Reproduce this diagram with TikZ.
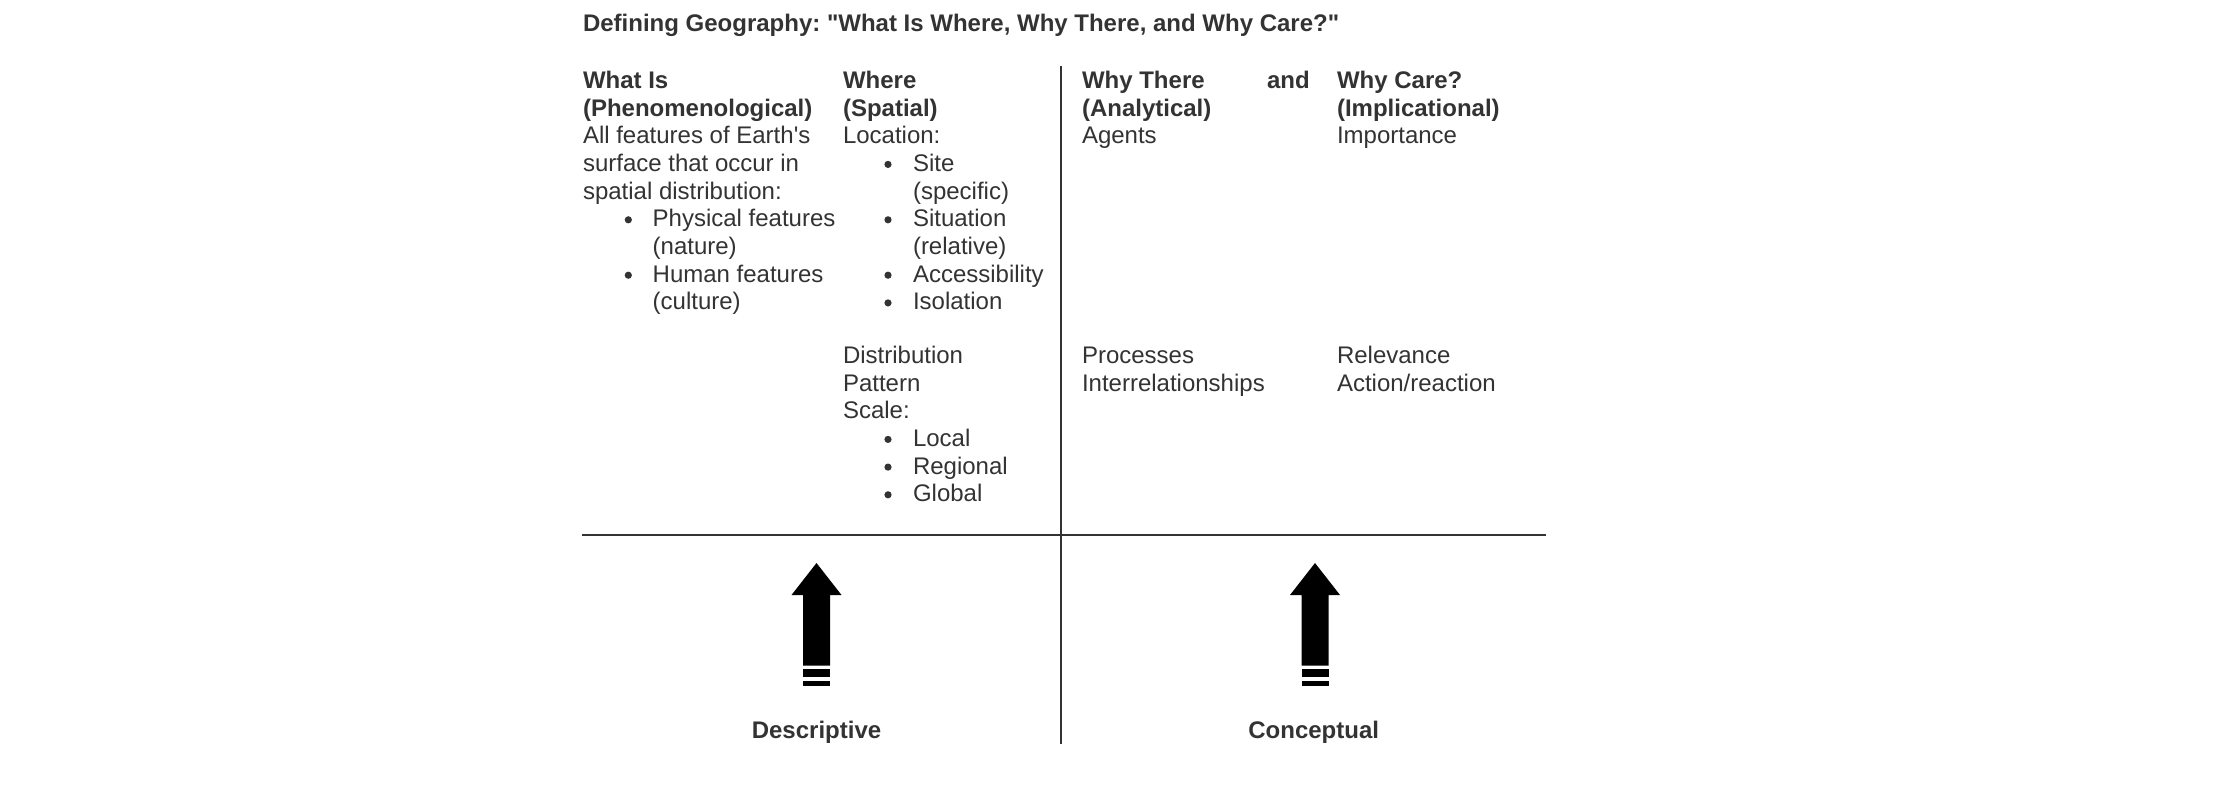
\documentclass[tikz,border=0pt]{standalone}
\usepackage{fontspec}
\setmainfont{Liberation Sans}
\definecolor{txt}{HTML}{333333}
\frenchspacing
\begin{document}
\begin{tikzpicture}[x=0.5pt,y=-0.5pt,
  t/.style={anchor=base west,inner sep=0pt,outer sep=0pt,text=txt,font=\fontsize{12}{14}\selectfont},
  tb/.style={t,font=\fontsize{12}{14}\selectfont\bfseries},
  lbl/.style={tb,anchor=base},
  dot/.style={circle,fill=txt,inner sep=0pt,minimum size=3.6pt},
  hrule/.style={draw=txt,line width=1.35pt},
  vrule/.style={draw=txt,line width=1pt},
  fatarrow/.style={fill=black}]
\useasboundingbox[fill=white] (0,0) rectangle (2214,788);

% title
\node[tb] (title) at (583,31.7) {Defining Geography: \textquotedbl What Is Where, Why There, and Why Care?\textquotedbl};

% column 1
\node[tb] (c1h1) at (583,88.3) {What Is};
\node[tb] (c1h2) at (583,116.0) {(Phenomenological)};
\node[t] (c1l1) at (583,143.7) {All features of Earth\textquotesingle s};
\node[t] (c1l2) at (583,171.4) {surface that occur in};
\node[t] (c1l3) at (583,199.1) {spatial distribution:};
\node[dot] (c1b1) at (628.3,219.8) {};
\node[t] (c1l4) at (652.7,226.8) {Physical features};
\node[t] (c1l5) at (652.7,254.5) {(nature)};
\node[dot] (c1b2) at (628.3,275.2) {};
\node[t] (c1l6) at (652.7,282.2) {Human features};
\node[t] (c1l7) at (652.7,309.9) {(culture)};

% column 2
\node[tb] (c2h1) at (843,88.3) {Where};
\node[tb] (c2h2) at (843,116.0) {(Spatial)};
\node[t] (c2l1) at (843,143.7) {Location:};
\node[dot] (c2b1) at (888,164.4) {};
\node[t] (c2l2) at (913,171.4) {Site};
\node[t] (c2l3) at (913,199.1) {(specific)};
\node[dot] (c2b2) at (888,219.8) {};
\node[t] (c2l4) at (913,226.8) {Situation};
\node[t] (c2l5) at (913,254.5) {(relative)};
\node[dot] (c2b3) at (888,275.2) {};
\node[t] (c2l6) at (913,282.2) {Accessibility};
\node[dot] (c2b4) at (888,302.9) {};
\node[t] (c2l7) at (913,309.9) {Isolation};

\node[t] (c2m1) at (843,363.3) {Distribution};
\node[t] (c2m2) at (843,391.0) {Pattern};
\node[t] (c2m3) at (843,418.7) {Scale:};
\node[dot] (c2b5) at (888,439.4) {};
\node[t] (c2m4) at (913,446.4) {Local};
\node[dot] (c2b6) at (888,467.1) {};
\node[t] (c2m5) at (913,474.1) {Regional};
\node[dot] (c2b7) at (888,494.8) {};
\node[t] (c2m6) at (913,501.8) {Global};

% column 3
\node[tb] (c3h1) at (1082,88.3) {Why There};
\node[tb] (c3h2) at (1082,116.0) {(Analytical)};
\node[t] (c3l1) at (1082,143.7) {Agents};
\node[t] (c3m1) at (1082,363.3) {Processes};
\node[t] (c3m2) at (1082,391.0) {Interrelationships};
\node[tb] (and) at (1267,88.3) {and};

% column 4
\node[tb] (c4h1) at (1337,88.3) {Why Care?};
\node[tb] (c4h2) at (1337,116.0) {(Implicational)};
\node[t] (c4l1) at (1337,143.7) {Importance};
\node[t] (c4m1) at (1337,363.3) {Relevance};
\node[t] (c4m2) at (1337,391.0) {Action/reaction};

% rules
\coordinate (hl) at (582,535);
\coordinate (hr) at (1546,535);
\coordinate (vt) at (1061,66);
\coordinate (vb) at (1061,744);
\draw[hrule] (hl) -- (hr);
\draw[vrule] (vt) -- (vb);

% arrows
\foreach \cx/\nm in {816.5/a, 1315/b}{
  \fill[fatarrow] (\cx,563) -- (\cx+25,595) -- (\cx+13.5,595) -- (\cx+13.5,665.7)
     -- (\cx-13.5,665.7) -- (\cx-13.5,595) -- (\cx-25,595) -- cycle;
  \fill[fatarrow] (\cx-13.5,669) rectangle (\cx+13.5,677.3);
  \fill[fatarrow] (\cx-13.5,680.7) rectangle (\cx+13.5,685.7);
}

\node[lbl] (desc) at (816.5,738) {Descriptive};
\node[lbl] (conc) at (1313.7,738) {Conceptual};
\end{tikzpicture}
\end{document}
